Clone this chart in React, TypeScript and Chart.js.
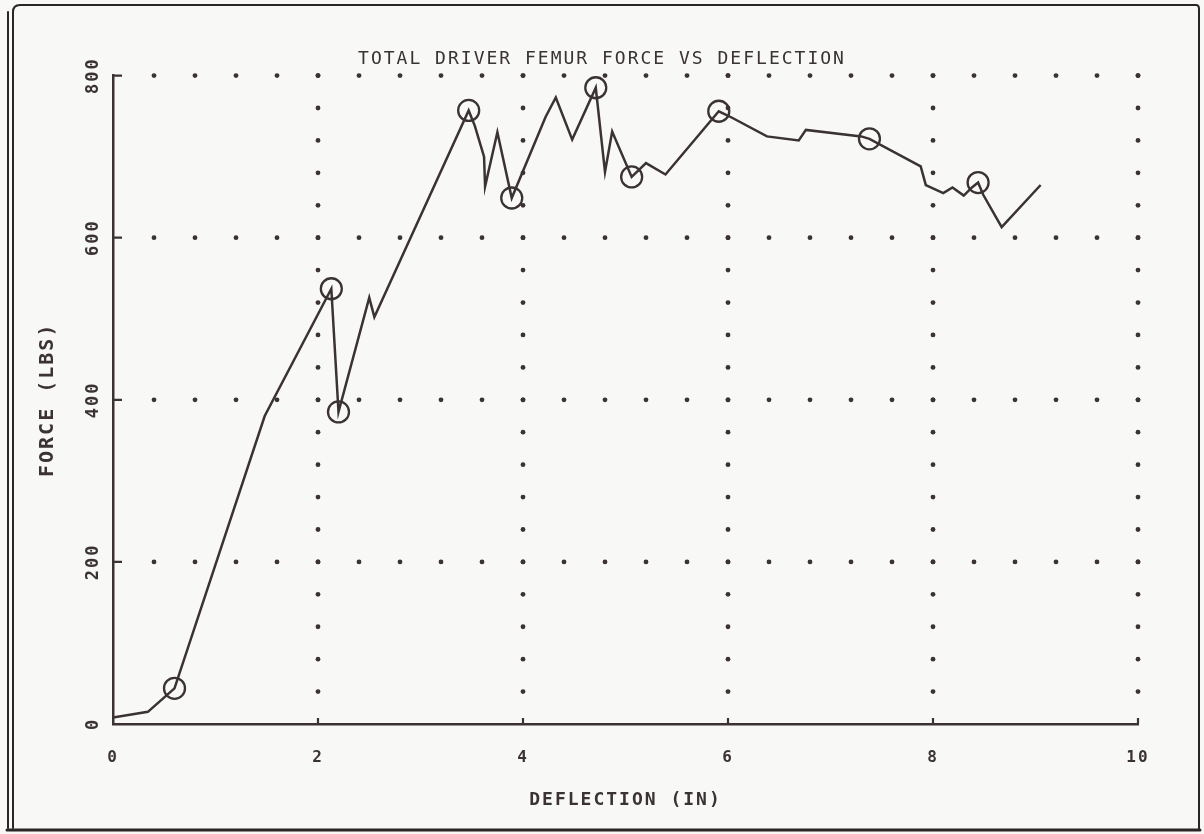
import React, { useEffect, useRef } from "react";
import { Chart, registerables } from "chart.js";

Chart.register(...registerables);

// ---- text ----
const TITLE = "TOTAL DRIVER FEMUR FORCE VS DEFLECTION";
const X_TITLE = "DEFLECTION (IN)";
const Y_TITLE = "FORCE (LBS)";

// ---- axes ----
const X_TICKS = [0, 2, 4, 6, 8, 10];
const Y_TICKS = [0, 200, 400, 600, 800];
const X_DOT_STEP = 0.4;
const Y_DOT_STEP = 40;

// ---- data: force vs deflection trace ----
const deflection = [
  0, 0.34, 0.6, 1.48, 2.13, 2.2, 2.5, 2.55, 3.47, 3.53, 3.62, 3.63, 3.75, 3.89,
  4.22, 4.32, 4.48, 4.71, 4.8, 4.87, 5.06, 5.2, 5.39, 5.91, 6.04, 6.38, 6.69,
  6.76, 7.3, 7.38, 7.88, 7.93, 8.1, 8.19, 8.3, 8.38, 8.44, 8.49, 8.67, 9.05,
];
const force = [
  8, 15, 44, 380, 537, 385, 526, 502, 757, 738, 700, 663, 730, 649,
  749, 773, 721, 785, 681, 731, 675, 692, 678, 756, 748, 725, 720,
  733, 725, 722, 688, 665, 655, 662, 652, 662, 668, 653, 613, 665,
];

// ---- circled points ----
const markDeflection = [0.6, 2.13, 2.2, 3.47, 3.89, 4.71, 5.06, 5.91, 7.38, 8.44];
const markForce = [44, 537, 385, 757, 649, 785, 675, 756, 722, 668];

const INK = "#3a3234";
const FONT = "'DejaVu Sans Mono', 'Liberation Mono', monospace";

const paperPlugin = {
  id: "paper",
  beforeDraw(chart: any) {
    const { ctx, width, height } = chart;
    ctx.save();
    ctx.fillStyle = "#f8f8f6";
    ctx.fillRect(0, 0, width, height);
    ctx.strokeStyle = "#2a2526";
    ctx.lineCap = "round";
    ctx.lineWidth = 2;
    ctx.beginPath();
    ctx.moveTo(13, 12);
    ctx.quadraticCurveTo(13, 5, 20, 5);
    ctx.lineTo(1196, 5);
    ctx.quadraticCurveTo(1199, 5, 1199, 9);
    ctx.lineTo(1199, 830);
    ctx.moveTo(8, 12);
    ctx.lineTo(8, 828);
    ctx.moveTo(13, 12);
    ctx.lineTo(13, 828);
    ctx.stroke();
    ctx.lineWidth = 3;
    ctx.beginPath();
    ctx.moveTo(7, 830);
    ctx.lineTo(1200, 830);
    ctx.stroke();
    ctx.restore();
    (ctx as any).letterSpacing = "2px";
  },
  beforeDatasetsDraw(chart: any) {
    const { ctx } = chart;
    const xs = chart.scales.x;
    const ys = chart.scales.y;
    const xMax = X_TICKS[X_TICKS.length - 1];
    const yMax = Y_TICKS[Y_TICKS.length - 1];
    ctx.save();
    ctx.fillStyle = INK;
    const dot = (px: number, py: number) => {
      ctx.beginPath();
      ctx.arc(px, py, 2.4, 0, Math.PI * 2);
      ctx.fill();
    };
    for (const yv of Y_TICKS) {
      if (yv <= 0) continue;
      for (let k = 1; k * X_DOT_STEP <= xMax + 1e-9; k++) {
        dot(xs.getPixelForValue(k * X_DOT_STEP), ys.getPixelForValue(yv));
      }
    }
    for (const xv of X_TICKS) {
      if (xv <= 0) continue;
      for (let k = 1; k * Y_DOT_STEP <= yMax + 1e-9; k++) {
        dot(xs.getPixelForValue(xv), ys.getPixelForValue(k * Y_DOT_STEP));
      }
    }
    // inward tick marks
    ctx.strokeStyle = INK;
    ctx.lineWidth = 2.2;
    ctx.beginPath();
    const x0 = xs.getPixelForValue(0);
    for (const yv of Y_TICKS) {
      if (yv <= 0) continue;
      const py = ys.getPixelForValue(yv);
      ctx.moveTo(x0, py);
      ctx.lineTo(x0 + 9, py);
    }
    const y0 = ys.getPixelForValue(0);
    for (const xv of X_TICKS) {
      if (xv <= 0) continue;
      const px = xs.getPixelForValue(xv);
      ctx.moveTo(px, y0);
      ctx.lineTo(px, y0 - 6);
    }
    ctx.stroke();
    ctx.restore();
  },
};

export default function App() {
  const ref = useRef<HTMLCanvasElement | null>(null);

  useEffect(() => {
    if (!ref.current) return;
    const chart = new Chart(ref.current, {
      type: "scatter",
      data: {
        datasets: [
          {
            label: "Force",
            data: deflection.map((x, i) => ({ x, y: force[i] })),
            showLine: true,
            borderColor: INK,
            borderWidth: 2.5,
            pointRadius: 0,
            tension: 0,
            fill: false,
          },
          {
            label: "Marks",
            data: markDeflection.map((x, i) => ({ x, y: markForce[i] })),
            showLine: false,
            pointStyle: "circle",
            pointRadius: 10.5,
            pointBorderWidth: 2.3,
            pointBackgroundColor: "rgba(0,0,0,0)",
            pointBorderColor: INK,
            borderColor: INK,
          },
        ],
      },
      options: {
        responsive: false,
        animation: false,
        layout: { padding: 0 },
        plugins: {
          legend: { display: false },
          tooltip: { enabled: false },
          title: {
            display: true,
            text: TITLE,
            color: INK,
            font: { family: FONT, size: 18, weight: "normal" },
            padding: { top: 49, bottom: 5 },
          },
        },
        scales: {
          x: {
            type: "linear",
            min: 0,
            max: 10,
            grid: { display: false, drawTicks: false },
            border: { display: true, color: INK, width: 2.5 },
            ticks: {
              stepSize: 2,
              color: INK,
              padding: 24,
              font: { family: FONT, size: 16, weight: "bold" },
            },
            title: {
              display: true,
              text: X_TITLE,
              color: INK,
              font: { family: FONT, size: 18, weight: "bold" },
              padding: { top: 0, bottom: 23 },
            },
            afterFit: (s: any) => {
              s.height = 110;
            },
          },
          y: {
            type: "linear",
            min: 0,
            max: 800,
            grid: { display: false, drawTicks: false },
            border: { display: true, color: INK, width: 2.5 },
            ticks: {
              stepSize: 200,
              color: INK,
              padding: 4,
              minRotation: 90,
              maxRotation: 90,
              crossAlign: "center",
              font: { family: FONT, size: 17, weight: "bold" },
            },
            title: {
              display: true,
              text: Y_TITLE,
              color: INK,
              font: { family: FONT, size: 20, weight: "bold" },
              padding: { top: 36, bottom: 0 },
            },
            afterFit: (s: any) => {
              s.width = 113;
            },
          },
          spacer: {
            type: "linear",
            position: "right",
            display: true,
            grid: { display: false, drawTicks: false },
            border: { display: false },
            ticks: { display: false },
            afterFit: (s: any) => {
              s.width = 66;
            },
          },
        },
      },
      plugins: [paperPlugin],
    } as any);
    return () => chart.destroy();
  }, []);

  return (
    <div style={{ position: "fixed", left: 0, top: 0, width: 1204, height: 834 }}>
      <canvas ref={ref} width={1204} height={834} style={{ display: "block" }} />
    </div>
  );
}
